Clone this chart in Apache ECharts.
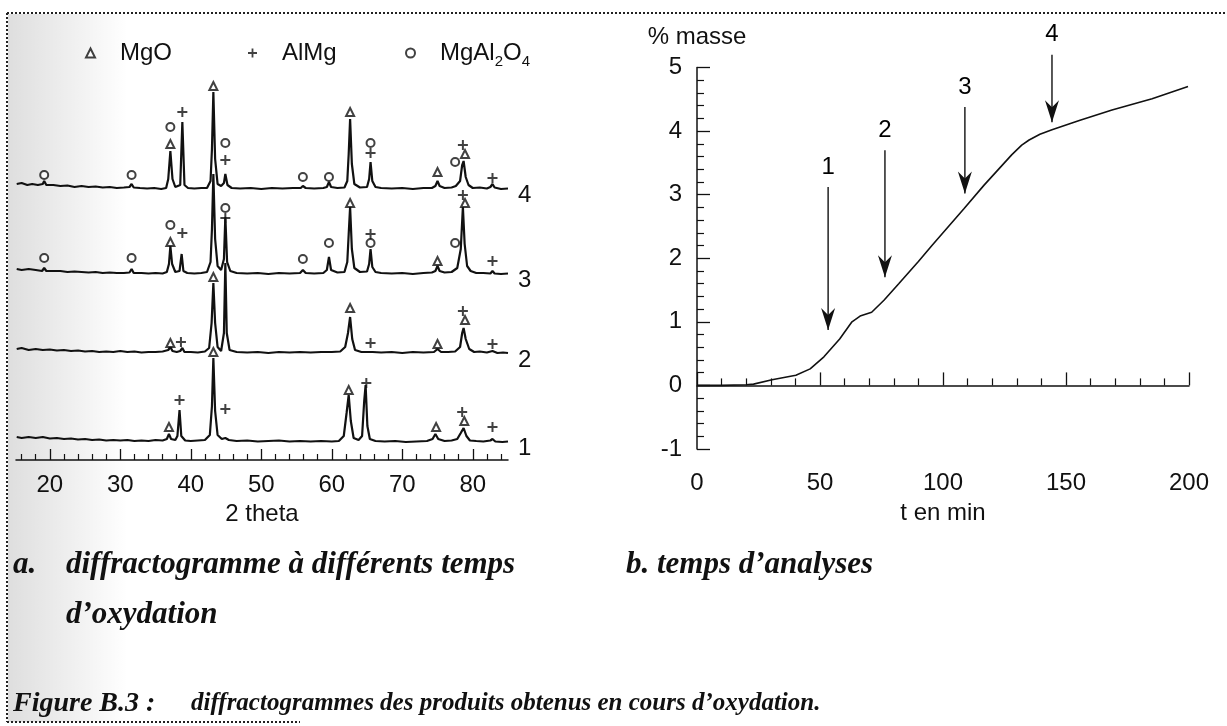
<!DOCTYPE html>
<html>
<head>
<meta charset="utf-8">
<script src="https://cdn.jsdelivr.net/npm/echarts@6/dist/echarts.min.js"></script>
<style>
html,body{margin:0;padding:0;background:#fff;}
#chart{width:1227px;height:726px;}
</style>
</head>
<body>
<div id="chart"></div>
<script>
// ---------- DATA ----------
// X-ray diffractograms: [2 theta, intensity above the trace's own baseline]
const trace1 = [[15.3,4],[16,3],[17,4],[18,3],[19,4],[20,2.5],[21,3],[22,2],[23,2.5],[24,1.5],[25,2],[26,1],[27,1.5],[28,0.5],[29,1],[30,0.5],[31,1],[32,0],[33,0.5],[34,0],[35,1],[36,0.5],[36.6,2],[36.9,7],[37.2,2],[37.8,1],[38.1,5],[38.4,31],[38.65,5],[39.2,0.5],[40,0],[41,0.5],[42,1],[42.7,6],[43.0,35],[43.2,83],[43.45,30],[43.8,6],[44.4,2],[44.9,3],[45.4,1],[46.5,0],[48,0.5],[49.5,-0.5],[51,0],[52.5,0.5],[54,-0.5],[55.5,0],[57,-0.5],[58.5,0],[60,-0.5],[61,0],[61.7,5],[62.1,28],[62.4,46],[62.7,20],[63.1,3],[63.8,1],[64.3,5],[64.6,40],[64.8,56],[65.05,15],[65.4,2],[66.2,0],[67.5,-0.5],[69,0],[70.5,-1],[72,-0.5],[73.5,0],[74.3,2],[74.7,7],[75.1,2],[76,0],[77,0.5],[77.8,2],[78.3,8],[78.7,13],[79.1,5],[79.6,0.5],[80.5,0],[81.5,-0.5],[82.5,0.5],[82.8,2],[83.2,-0.5],[84.2,-1],[85,-0.5]];
const trace2 = [[15.3,4],[16,5],[17,3],[18,4],[19,3],[20,3.5],[21,2.5],[22,3],[23,2],[24,2.5],[25,1.5],[26,2],[27,1],[28,1.5],[29,1],[30,2],[31,1],[32,1.5],[33,0.5],[34,1],[35,1],[36,1.5],[36.8,3],[37.1,6],[37.4,2],[38,1],[38.5,2],[38.8,5],[39.1,1],[40,1],[41,0.5],[42,1.5],[42.6,5],[42.95,30],[43.2,70],[43.45,30],[43.8,6],[44.3,2],[44.7,20],[44.9,90],[45.1,20],[45.5,3],[46.5,1],[48,0.5],[49.5,1],[51,0],[52.5,1],[54,0.5],[55.5,1],[57,0.5],[58.5,1],[60,1],[61.2,1.5],[61.9,6],[62.3,20],[62.6,36],[62.9,14],[63.3,3],[64.2,1],[65.3,1],[65.5,3],[65.8,1],[67,0.5],[68.5,1],[70,0],[71.5,1],[73,0.5],[74.5,1],[75.0,4],[75.5,1],[76.5,1],[77.5,1.5],[78.2,6],[78.5,20],[78.7,25],[79.0,14],[79.5,4],[80.2,1],[81,1.5],[82,0.5],[82.8,2],[83.5,0],[84.3,0.5],[85,0]];
const trace3 = [[15.3,5],[16,4],[17,5],[18,4],[18.9,3],[19.2,6],[19.5,3],[20.5,3],[21.5,3],[22.5,2],[23.5,2.5],[24.5,2],[25.5,1.5],[26.5,2],[27.5,1],[28.5,1.5],[29.5,1],[30.5,1],[31.3,1.5],[31.6,5],[31.9,1],[33,1],[34,0.5],[35,1],[36,0.5],[36.6,2],[36.9,10],[37.1,28],[37.35,10],[37.8,2],[38.4,3],[38.7,20],[38.95,3],[39.5,1],[40.5,0.5],[41.5,1],[42.3,2],[42.8,12],[43.0,45],[43.2,100],[43.45,35],[43.8,8],[44.3,4],[44.7,15],[44.9,57],[45.15,12],[45.6,3],[46.5,1],[48,0.5],[49.5,1],[51,0],[52.5,1],[54,0.5],[55.5,1],[55.9,4],[56.3,1],[57.5,0.5],[58.8,1],[59.3,4],[59.6,17],[59.9,4],[60.8,1.5],[61.8,2],[62.2,12],[62.4,40],[62.6,67],[62.85,25],[63.2,6],[64,2],[65,2.5],[65.3,10],[65.5,25],[65.75,7],[66.2,2],[67,1],[68.5,0.5],[70,1],[71.5,0],[73,1],[74.2,1.5],[74.7,3],[75.0,8],[75.3,3],[76,1.5],[77,2],[77.8,6],[78.3,25],[78.6,67],[78.85,30],[79.2,8],[79.7,3],[80.5,1],[81.5,1],[82.5,0.5],[82.8,3],[83.1,0.5],[84,0],[85,0.5]];
const trace4 = [[15.3,5],[16,6],[16.8,4],[17.5,5],[18.3,4],[19,5],[19.2,8],[19.5,4],[20.5,4],[21.5,3],[22.5,3.5],[23.5,2],[24.5,3],[25.5,2],[26.5,2.5],[27.5,1.5],[28.5,2],[29.5,1],[30.5,1.5],[31.3,2],[31.6,5],[31.9,1.5],[32.8,1],[33.8,0.5],[34.8,1],[35.8,0],[36.5,1],[36.8,10],[37.1,38],[37.4,10],[37.8,2],[38.5,4],[38.8,67],[39.1,4],[39.6,1],[40.5,0.5],[41.5,1],[42.3,1],[42.8,8],[43.0,40],[43.2,97],[43.45,30],[43.8,5],[44.3,3],[44.7,6],[44.9,15],[45.2,4],[45.8,1],[47,0.5],[48.5,1],[50,0],[51.5,1],[53,0.5],[54.5,1],[55.6,1],[55.9,3],[56.3,1],[57.5,0.5],[58.8,1],[59.3,2],[59.6,7],[59.9,2],[60.8,1],[61.8,1.5],[62.2,8],[62.4,35],[62.6,70],[62.85,25],[63.2,5],[64,1.5],[65,2],[65.3,10],[65.5,27],[65.75,8],[66.2,2],[67,1],[68.5,0.5],[70,1],[71.5,0],[73,1],[74.2,1],[74.7,3],[75.0,8],[75.3,3],[76,1],[77,1.5],[77.6,3],[78.2,8],[78.5,24],[78.7,28],[79.0,12],[79.4,4],[80,1],[81,1.5],[82,0.5],[82.5,2],[82.8,5],[83.1,1.5],[84,0],[85,0.5]];
const traceLabels = ['1','2','3','4'];

// phase markers: [2 theta, height above baseline, trace index (0 = trace 1)]
const mgoMarks = [[36.9,14,0],[43.2,89,0],[62.4,51,0],[74.8,14,0],[78.8,20,0],
  [37.1,10,1],[43.2,76,1],[62.6,45,1],[75.0,9,1],[78.9,33,1],
  [37.1,32,2],[62.6,71,2],[75.0,13,2],[78.9,71,2],
  [37.1,45,3],[43.2,103,3],[62.6,77,3],[75.0,17,3],[78.9,35,3]];
const almgMarks = [[38.4,41,0],[44.9,32,0],[64.9,58,0],[78.5,29,0],[82.8,14,0],
  [38.6,11,1],[65.5,10,1],[78.6,42,1],[82.8,9,1],
  [38.8,41,2],[44.9,56,2],[65.5,40,2],[78.6,79,2],[82.8,13,2],
  [38.8,77,3],[44.9,29,3],[65.5,36,3],[78.6,44,3],[82.8,11,3]];
const spinelMarks = [[19.2,16,2],[31.6,16,2],[37.1,49,2],[44.9,66,2],[55.9,15,2],[59.6,31,2],[65.5,31,2],[77.5,31,2],
  [19.2,14,3],[31.6,14,3],[37.1,62,3],[44.9,46,3],[55.9,12,3],[59.6,12,3],[65.5,46,3],[77.5,27,3]];

const thetaMajorTicks = [20,30,40,50,60,70,80];
const thetaMinorTicks = [16,18,22,24,26,28,32,34,36,38,42,44,46,48,52,54,56,58,62,64,66,68,72,74,76,78,82,84];

// mass gain curve: [t (min), % masse]
const massCurve = [[0,0],[10,0],[20,0.01],[23,0.02],[30.5,0.09],[40.2,0.16],[46,0.26],[51.6,0.45],[58,0.73],[63,1.0],[66.3,1.09],[71,1.15],[76,1.34],[82,1.6],[90,1.95],[95.5,2.2],[108.5,2.78],[116.7,3.15],[128,3.63],[132,3.78],[135,3.86],[139.4,3.95],[144.3,4.02],[155.7,4.17],[168.7,4.33],[185,4.51],[199.6,4.70]];
const arrowTimes = [53.3, 76.4, 108.9, 144.3];
const arrowStarts = [3.12, 3.70, 4.38, 5.20];
const arrowTips = [0.87, 1.70, 3.02, 4.14];
const arrowLabels = ['1','2','3','4'];

// ---------- LAYOUT / STYLE ----------
const traceBase = [19, 107, 186, 271];   // vertical stacking offsets of the traces
const SANS = '"Liberation Sans", Arial, sans-serif';
const SERIF = '"Liberation Serif", "Times New Roman", serif';
const INK = '#111';

const plusPath = 'path://M4,0h2v4h4v2h-4v4h-2v-4h-4v-2h4z';
const arrowPath = 'path://M0,0 L7,7 L14,0 L7,22 Z';

function marks(list){ return list.map(m => [m[0], traceBase[m[2]] + m[1]]); }

const chart = echarts.init(document.getElementById('chart'), null, {renderer:'canvas'});

const traces = [trace1, trace2, trace3, trace4].map((tr, i) => ({
  type:'line', xAxisIndex:0, yAxisIndex:0, symbol:'none', silent:true,
  data: tr.map(p => [p[0], traceBase[i] + p[1]]),
  lineStyle:{color:INK, width:2.2},
  endLabel:{show:true, formatter: traceLabels[i], distance:10, offset:[0,7],
            fontSize:24, fontFamily:SANS, color:INK},
  z:2
}));

const legendCommon = {
  orient:'horizontal', itemWidth:9, itemHeight:9, selectedMode:false, top:36,
  formatter: n => n === 'MgAl2O4' ? '{n|MgAl}{s|2}{n|O}{s|4}' : '{n|' + n + '}',
  textStyle:{padding:[0,0,0,20], rich:{
    n:{fontSize:24, fontFamily:SANS, color:INK, lineHeight:32},
    s:{fontSize:15, fontFamily:SANS, color:INK, lineHeight:15, verticalAlign:'bottom'}
  }}
};

const arrowSeries = arrowTimes.map((t, i) => ({
  type:'line', xAxisIndex:2, yAxisIndex:1, clip:false, silent:true,
  lineStyle:{color:INK, width:1.4},
  data:[
    {value:[t, arrowStarts[i]], symbol:'none'},
    {value:[t, arrowTips[i]], symbol:arrowPath, symbolSize:[14,22], symbolOffset:[0,'-50%'],
     itemStyle:{color:INK}}
  ],
  z:4
}));

const arrowLabelSeries = {
  type:'scatter', xAxisIndex:2, yAxisIndex:1, clip:false, silent:true,
  symbol:'circle', symbolSize:0.01, itemStyle:{color:INK, opacity:1},
  data: arrowTimes.map((t, i) => [t, arrowStarts[i]]),
  label:{show:true, position:'top', distance:8, formatter: p => arrowLabels[p.dataIndex],
         fontSize:24, fontFamily:SANS, color:'#000', opacity:1, textBorderWidth:0},
  z:4
};

const option = {
  animation:false,
  backgroundColor:'#fff',
  textStyle:{fontFamily:SANS},
  legend:[
    Object.assign({}, legendCommon, {left:80, data:['MgO']}),
    Object.assign({}, legendCommon, {left:243, data:['AlMg']}),
    Object.assign({}, legendCommon, {left:400, data:['MgAl2O4']})
  ],
  grid:[
    {left:16, right:719, top:60, bottom:266},
    {left:697, right:38, top:67.5, bottom:277}
  ],
  xAxis:[
    {gridIndex:0, type:'value', position:'bottom', min:15.2, max:85,
     name:'2 theta', nameLocation:'middle', nameGap:42,
     nameTextStyle:{fontSize:24, fontFamily:SANS, color:INK},
     axisLine:{show:true, lineStyle:{color:INK, width:1.5}},
     axisTick:{show:true, inside:true, length:11, customValues:thetaMajorTicks, lineStyle:{color:INK, width:1.3}},
     axisLabel:{show:true, customValues:thetaMajorTicks, margin:13, fontSize:24, fontFamily:SANS, color:INK},
     splitLine:{show:false}},
    {gridIndex:0, type:'value', position:'bottom', min:15.2, max:85,
     axisLine:{show:false},
     axisTick:{show:true, inside:true, length:6, customValues:thetaMinorTicks, lineStyle:{color:INK, width:1.2}},
     axisLabel:{show:false}, splitLine:{show:false}},
    {gridIndex:1, type:'value', min:0, max:200, interval:50,
     name:'t en min', nameLocation:'middle', nameGap:52,
     nameTextStyle:{fontSize:24, fontFamily:SANS, color:INK},
     axisLine:{show:true, lineStyle:{color:INK, width:1.5}},
     axisTick:{show:true, inside:true, length:13, lineStyle:{color:INK, width:1.3}},
     minorTick:{show:true, splitNumber:5, length:7, lineStyle:{color:INK, width:1.2}},
     axisLabel:{margin:22, fontSize:24, fontFamily:SANS, color:INK, showMinLabel:true, showMaxLabel:true},
     splitLine:{show:false}}
  ],
  yAxis:[
    {gridIndex:0, type:'value', min:0, max:400, show:false},
    {gridIndex:1, type:'value', min:-1, max:5, interval:1,
     name:'% masse', nameLocation:'end', nameGap:18,
     nameTextStyle:{fontSize:24, fontFamily:SANS, color:INK, align:'center'},
     axisLine:{show:true, lineStyle:{color:INK, width:1.5}},
     axisTick:{show:true, inside:true, length:13, lineStyle:{color:INK, width:1.3}},
     minorTick:{show:true, splitNumber:5, length:7, lineStyle:{color:INK, width:1.2}},
     axisLabel:{margin:15, fontSize:24, fontFamily:SANS, color:INK},
     splitLine:{show:false}}
  ],
  series: traces.concat([
    {name:'MgO', type:'scatter', xAxisIndex:0, yAxisIndex:0, symbol:'emptyTriangle', symbolSize:8,
     itemStyle:{color:INK, borderWidth:1.3}, data:marks(mgoMarks), z:5, silent:true},
    {name:'AlMg', type:'scatter', xAxisIndex:0, yAxisIndex:0, symbol:plusPath, symbolSize:10,
     itemStyle:{color:INK}, data:marks(almgMarks), z:5, silent:true},
    {name:'MgAl2O4', type:'scatter', xAxisIndex:0, yAxisIndex:0, symbol:'emptyCircle', symbolSize:8,
     itemStyle:{color:INK, borderWidth:1.3}, data:marks(spinelMarks), z:5, silent:true},
    {type:'line', xAxisIndex:2, yAxisIndex:1, symbol:'none', data:massCurve, silent:true,
     lineStyle:{color:INK, width:1.6}, z:3},
    arrowLabelSeries
  ]).concat(arrowSeries),
  graphic:[
    {type:'rect', shape:{x:8, y:14, width:120, height:708}, silent:true, z:-10,
     style:{fill:new echarts.graphic.LinearGradient(0,0,1,0,[{offset:0,color:'rgba(0,0,0,0.13)'},{offset:1,color:'rgba(0,0,0,0)'}])}},
    {type:'line', shape:{x1:7, y1:13, x2:1227, y2:13}, silent:true,
     style:{stroke:'#222', lineWidth:2, lineDash:[2,2]}},
    {type:'line', shape:{x1:7, y1:13, x2:7, y2:722}, silent:true,
     style:{stroke:'#222', lineWidth:2, lineDash:[2,2]}},
    {type:'line', shape:{x1:7, y1:722, x2:300, y2:722}, silent:true,
     style:{stroke:'#222', lineWidth:2, lineDash:[2,2]}},
    {type:'text', left:13, top:549, silent:true,
     style:{text:'a.', font:'italic bold 31px ' + SERIF, fill:INK}},
    {type:'text', left:66, top:549, silent:true,
     style:{text:'diffractogramme à différents temps', font:'italic bold 31px ' + SERIF, fill:INK}},
    {type:'text', left:66, top:599, silent:true,
     style:{text:'d’oxydation', font:'italic bold 31px ' + SERIF, fill:INK}},
    {type:'text', left:626, top:549, silent:true,
     style:{text:'b. temps d’analyses', font:'italic bold 31px ' + SERIF, fill:INK}},
    {type:'text', left:13, top:690, silent:true,
     style:{text:'Figure B.3 :', font:'italic bold 28px ' + SERIF, fill:INK}},
    {type:'text', left:191, top:691, silent:true,
     style:{text:'diffractogrammes des produits obtenus en cours d’oxydation.', font:'italic bold 25px ' + SERIF, fill:INK}}
  ]
};
chart.setOption(option);
</script>
</body>
</html>
